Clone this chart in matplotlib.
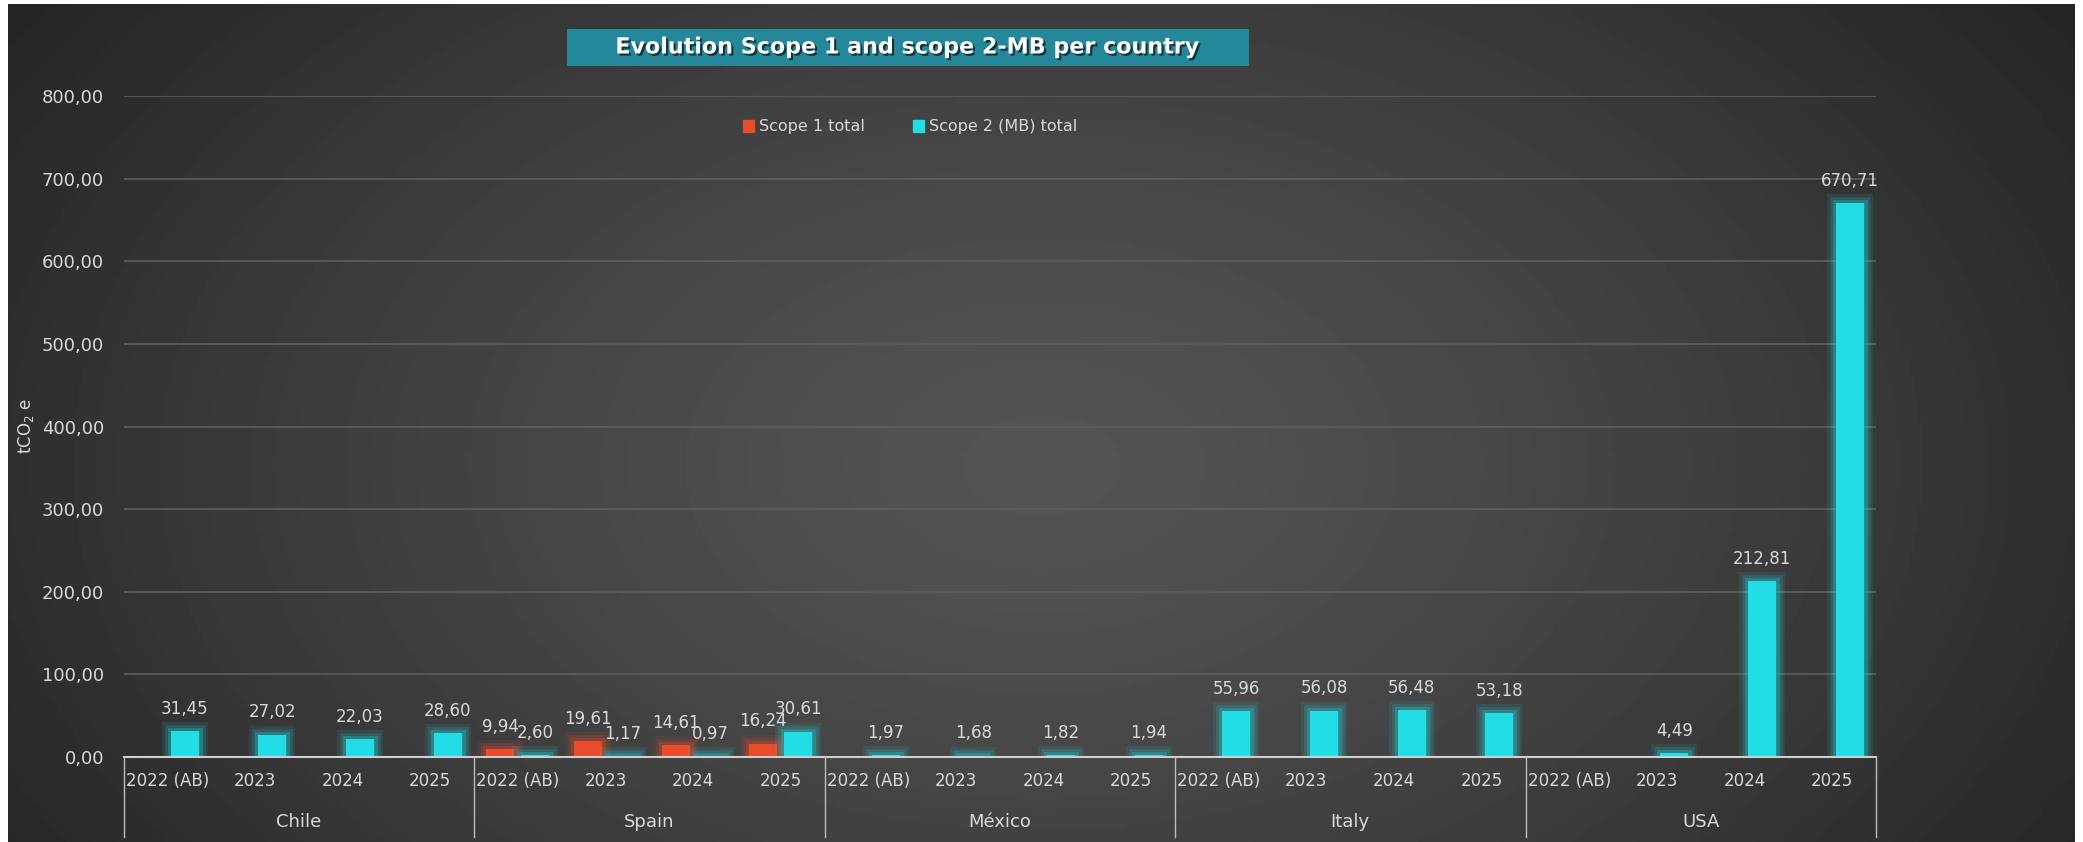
import numpy as np
import matplotlib.pyplot as plt
import matplotlib.patheffects as pe
from matplotlib.patches import Rectangle, Patch
from matplotlib.lines import Line2D
from matplotlib.transforms import blended_transform_factory

countries = ["Chile", "Spain", "México", "Italy", "USA"]
years = ["2022 (AB)", "2023", "2024", "2025"]

# one value per country/year, in the order of countries x years (nan = no bar)
scope1 = [np.nan, np.nan, np.nan, np.nan,      # Chile
          9.94, 19.61, 14.61, 16.24,           # Spain
          np.nan, np.nan, np.nan, np.nan,      # México
          np.nan, np.nan, np.nan, np.nan,      # Italy
          np.nan, np.nan, np.nan, np.nan]      # USA
scope2 = [31.45, 27.02, 22.03, 28.60,
          2.60, 1.17, 0.97, 30.61,
          1.97, 1.68, 1.82, 1.94,
          55.96, 56.08, 56.48, 53.18,
          np.nan, 4.49, 212.81, 670.71]

red = "#e94b2b"
cyan = "#22dde6"
txt = "#d9d9d9"

W, H = 2083, 842
fig = plt.figure(figsize=(W / 100, H / 100), dpi=100)
fig.patch.set_facecolor("white")

# dark radial background
bg = fig.add_axes([8 / W, 0, (2075 - 8) / W, (H - 4) / H])
yy, xx = np.mgrid[0:1:200j, 0:1:500j]
r = np.sqrt(((xx - 0.5) / 0.6) ** 2 + ((yy - 0.45) / 0.95) ** 2)
shade = 0x54 / 255 - (0x54 - 0x25) / 255 * np.clip(r, 0, 1) ** 1.3
bg.imshow(shade, cmap="gray", vmin=0, vmax=1, extent=(0, 1, 0, 1),
          aspect="auto", origin="lower")
bg.axis("off")

ax = fig.add_axes([123.5 / W, 1 - 757 / H, (1876 - 123.5) / W, (757 - 96) / H])
ax.patch.set_alpha(0)

x = np.arange(len(scope2))
w = 0.32
b1 = ax.bar(x - 0.2, scope1, w, color=red, zorder=3)
b2 = ax.bar(x + 0.2, scope2, w, color=cyan, zorder=3)

for bars, c in [(b1, red), (b2, cyan)]:
    for p in bars:
        p.set_path_effects([
            pe.Stroke(linewidth=13, foreground=c, alpha=0.10),
            pe.Stroke(linewidth=9, foreground=c, alpha=0.15),
            pe.Stroke(linewidth=5, foreground=c, alpha=0.25),
            pe.Normal()])

for xs, vals in [(x - 0.2, scope1), (x + 0.2, scope2)]:
    for xi, v in zip(xs, vals):
        if np.isnan(v):
            continue
        ax.annotate(f"{v:.2f}".replace(".", ","), (xi, v), xytext=(0, 16),
                    textcoords="offset points", ha="center", va="center",
                    color=txt, fontsize=12, zorder=4)

ax.set_xlim(-0.5, len(x) - 0.5)
ax.set_ylim(0, 800)
ax.set_yticks(range(0, 801, 100))
ax.set_yticklabels([f"{v:.2f}".replace(".", ",") for v in range(0, 801, 100)])
ax.set_xticks(x)
ax.set_xticklabels(years * len(countries))
ax.tick_params(axis="y", length=0, pad=14, labelsize=13, labelcolor=txt)
ax.tick_params(axis="x", length=0, pad=11, labelsize=12, labelcolor=txt)
ax.yaxis.grid(True, color="#5e5e5e", lw=1.2)
ax.set_axisbelow(True)
for s in ["top", "right", "left"]:
    ax.spines[s].set_visible(False)
ax.spines["bottom"].set_color("#cfcfcf")
ax.spines["bottom"].set_linewidth(1.5)
ax.spines["bottom"].set_zorder(5)

# group separators and country names
tr = blended_transform_factory(ax.transData, fig.transFigure)
n = len(years)
for i in range(len(countries) + 1):
    fig.add_artist(Line2D([i * n - 0.5] * 2, [1 - 757 / H, 1 - 837 / H],
                          transform=tr, color="#bdbdbd", lw=1))
for i, c in enumerate(countries):
    fig.text(i * n + (n - 1) / 2, 1 - 822 / H, c, transform=tr, ha="center",
             va="center", color=txt, fontsize=13)

fig.text(26 / W, 1 - 426 / H, "tCO$_2$ e", rotation=90, ha="center",
         va="center", color=txt, fontsize=12)

# title box
fig.add_artist(Rectangle((567 / W, 1 - 66 / H), (1249 - 567) / W, 37 / H,
                         transform=fig.transFigure, facecolor="#25889a",
                         edgecolor="none"))
fig.text(908 / W, 1 - 47.5 / H, "Evolution Scope 1 and scope 2-MB per country",
         ha="center", va="center", color="white", fontsize=16,
         fontweight="bold",
         path_effects=[pe.withSimplePatchShadow(offset=(1.5, -1.5),
                                                shadow_rgbFace="black",
                                                alpha=0.6)])

handles = [Patch(color=red), Patch(color=cyan)]
ax.legend(handles, ["Scope 1 total", "Scope 2 (MB) total"], loc="center",
          bbox_to_anchor=(910 / W, 1 - 127 / H), bbox_transform=fig.transFigure,
          ncol=2, frameon=False, fontsize=11.5, labelcolor=txt,
          handlelength=0.7, handleheight=0.7, handletextpad=0.3,
          columnspacing=3)

fig.savefig("out.png", dpi=100)
